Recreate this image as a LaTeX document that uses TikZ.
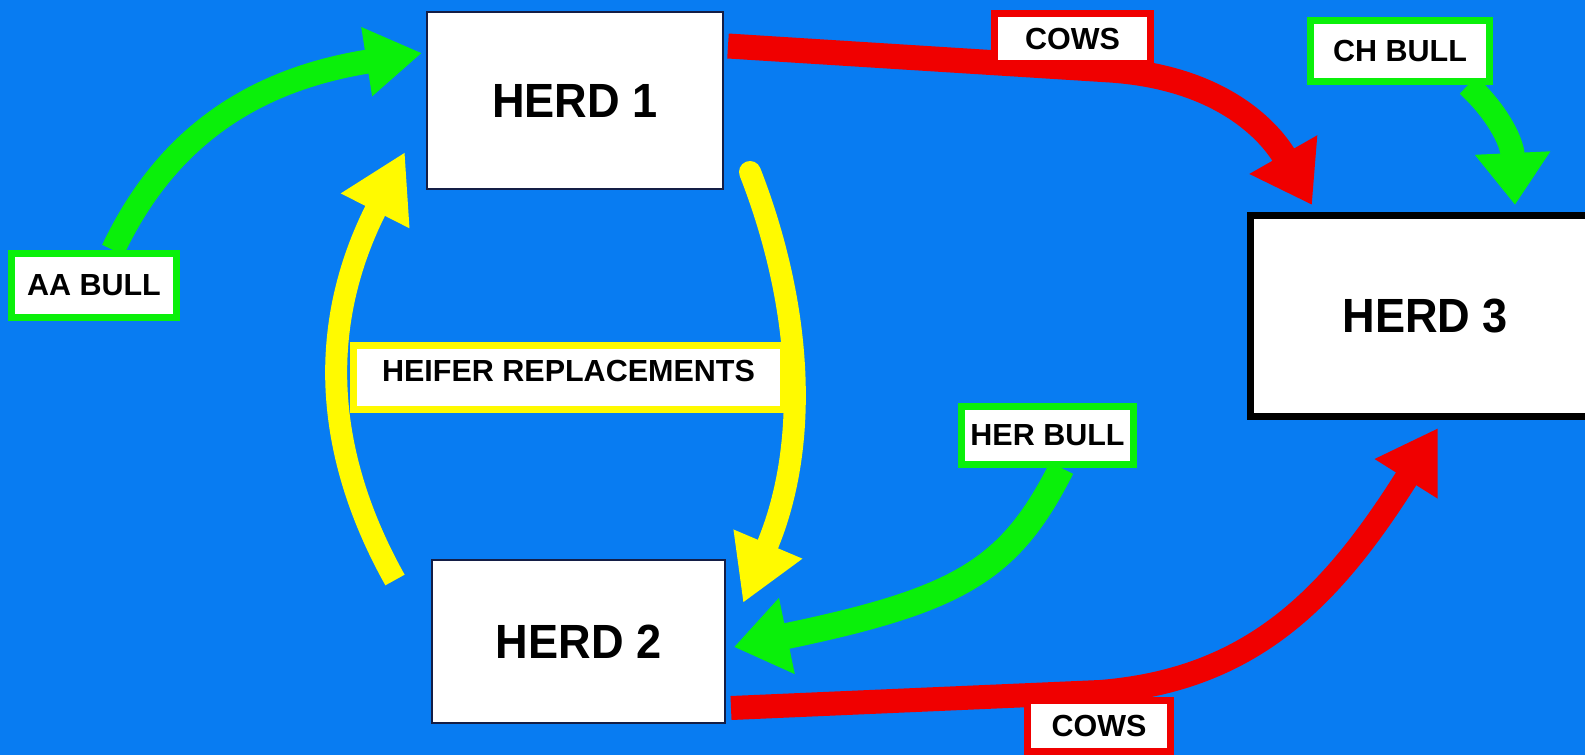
\documentclass[tikz,border=0pt]{standalone}
\usepackage{fontspec}
\usepackage{graphicx}
\setmainfont{Liberation Sans}
\usetikzlibrary{arrows.meta}
\definecolor{bgblue}{RGB}{8,124,242}
\definecolor{grn}{RGB}{10,240,10}
\definecolor{rd}{RGB}{240,0,0}
\definecolor{yel}{RGB}{255,250,0}
\definecolor{navy}{RGB}{20,30,70}
\newcommand\herdtxt[1]{\scalebox{0.94}[1]{#1}}
\pgfdeclarelayer{back}
\pgfsetlayers{back,main}
\begin{document}
\begin{tikzpicture}[x=1pt,y=-1pt,
  herdbox/.style={draw=navy, line width=1.5pt, fill=white, inner sep=0pt,
    font=\fontsize{48}{48}\selectfont\bfseries},
  lbl/.style={fill=white, line width=7pt, inner sep=0pt,
    font=\fontsize{30.5}{30.5}\selectfont\bfseries},
  flow/.style={line width=24pt},
]
\begin{pgfonlayer}{back}
\path[use as bounding box, fill=bgblue] (0,0) rectangle (1585,755);
\end{pgfonlayer}
\clip (0,0) rectangle (1585,755);

% main boxes
\node[herdbox, minimum width=296pt, minimum height=177pt] (herd1) at (575,100.5) {\herdtxt{HERD 1}};
\node[herdbox, minimum width=293pt, minimum height=163pt] (herd2) at (578.5,641.5) {\herdtxt{HERD 2}};
\node[herdbox, draw=black, line width=7pt, minimum width=349.5pt, minimum height=201pt] (herd3) at (1425.25,316) {\herdtxt{HERD 3}};

% labels
\node[lbl, draw=grn, minimum width=165pt, minimum height=64pt] (aa) at (94,285.5) {AA BULL};
\node[lbl, draw=rd, minimum width=156pt, minimum height=50pt] (cows1) at (1072.5,38.5) {COWS};
\node[lbl, draw=grn, minimum width=179pt, minimum height=61pt] (ch) at (1400,51) {CH BULL};
\node[lbl, draw=yel, minimum width=430pt, minimum height=64pt, text depth=14pt] (heifer) at (568.5,377.5) {HEIFER REPLACEMENTS};
\node[lbl, draw=grn, minimum width=172pt, minimum height=58pt] (her) at (1047.5,435.5) {HER BULL};
\node[lbl, draw=rd, minimum width=143pt, minimum height=51pt] (cows2) at (1099,726) {COWS};

% connector end points
\coordinate (aaTip) at (422,53);
\coordinate (ylStart) at (395,580);
\coordinate (ylTip) at (405,152);
\coordinate (yrStart) at (750,172);
\coordinate (yrTip) at (743,603);
\coordinate (rtStart) at (728,46);
\coordinate (rtMid) at (1110,70);
\coordinate (rtTip) at (1312,205);
\coordinate (chTip) at (1515,205);
\coordinate (herTip) at (734,647);
\coordinate (rbStart) at (731,708);
\coordinate (rbMid) at (1100,692);
\coordinate (rbTip) at (1438,428);

\begin{pgfonlayer}{back}
% AA BULL -> HERD 1
\draw[flow, grn, -{Triangle[length=56pt,width=66pt]}]
  ([xshift=19pt]aa.north) .. controls (165,140) and (250,80) .. (aaTip);
% HERD 2 -> HERD 1 (heifer replacements)
\draw[flow, yel, line width=22pt, -{Triangle[length=66pt,width=72pt]}]
  (ylStart) .. controls (300,410) and (340,280) .. (ylTip);
% HERD 1 -> HERD 2
\draw[flow, yel, line width=22pt, line cap=round, -{Triangle[length=64pt,width=70pt]}]
  (yrStart) .. controls (800,300) and (812,440) .. (yrTip);
% HERD 1 -> HERD 3 (cows)
\draw[flow, rd, line width=25pt, -{Triangle[length=58pt,width=74pt]}]
  (rtStart) -- (rtMid) .. controls (1230,78) and (1275,140) .. (rtTip);
% CH BULL -> HERD 3
\draw[flow, grn, -{Triangle[length=52pt,width=72pt]}]
  ([xshift=68pt]ch.south) .. controls (1495,110) and (1512,140) .. (chTip);
% HER BULL -> HERD 2
\draw[flow, grn, line width=26pt, -{Triangle[length=54pt,width=74pt]}]
  ([xshift=14pt]her.south) .. controls (1010,570) and (960,600) .. (herTip);
% HERD 2 -> HERD 3 (cows)
\draw[flow, rd, -{Triangle[length=60pt,width=70pt]}]
  (rbStart) -- (rbMid) .. controls (1250,680) and (1330,600) .. (rbTip);
\end{pgfonlayer}
\end{tikzpicture}
\end{document}
